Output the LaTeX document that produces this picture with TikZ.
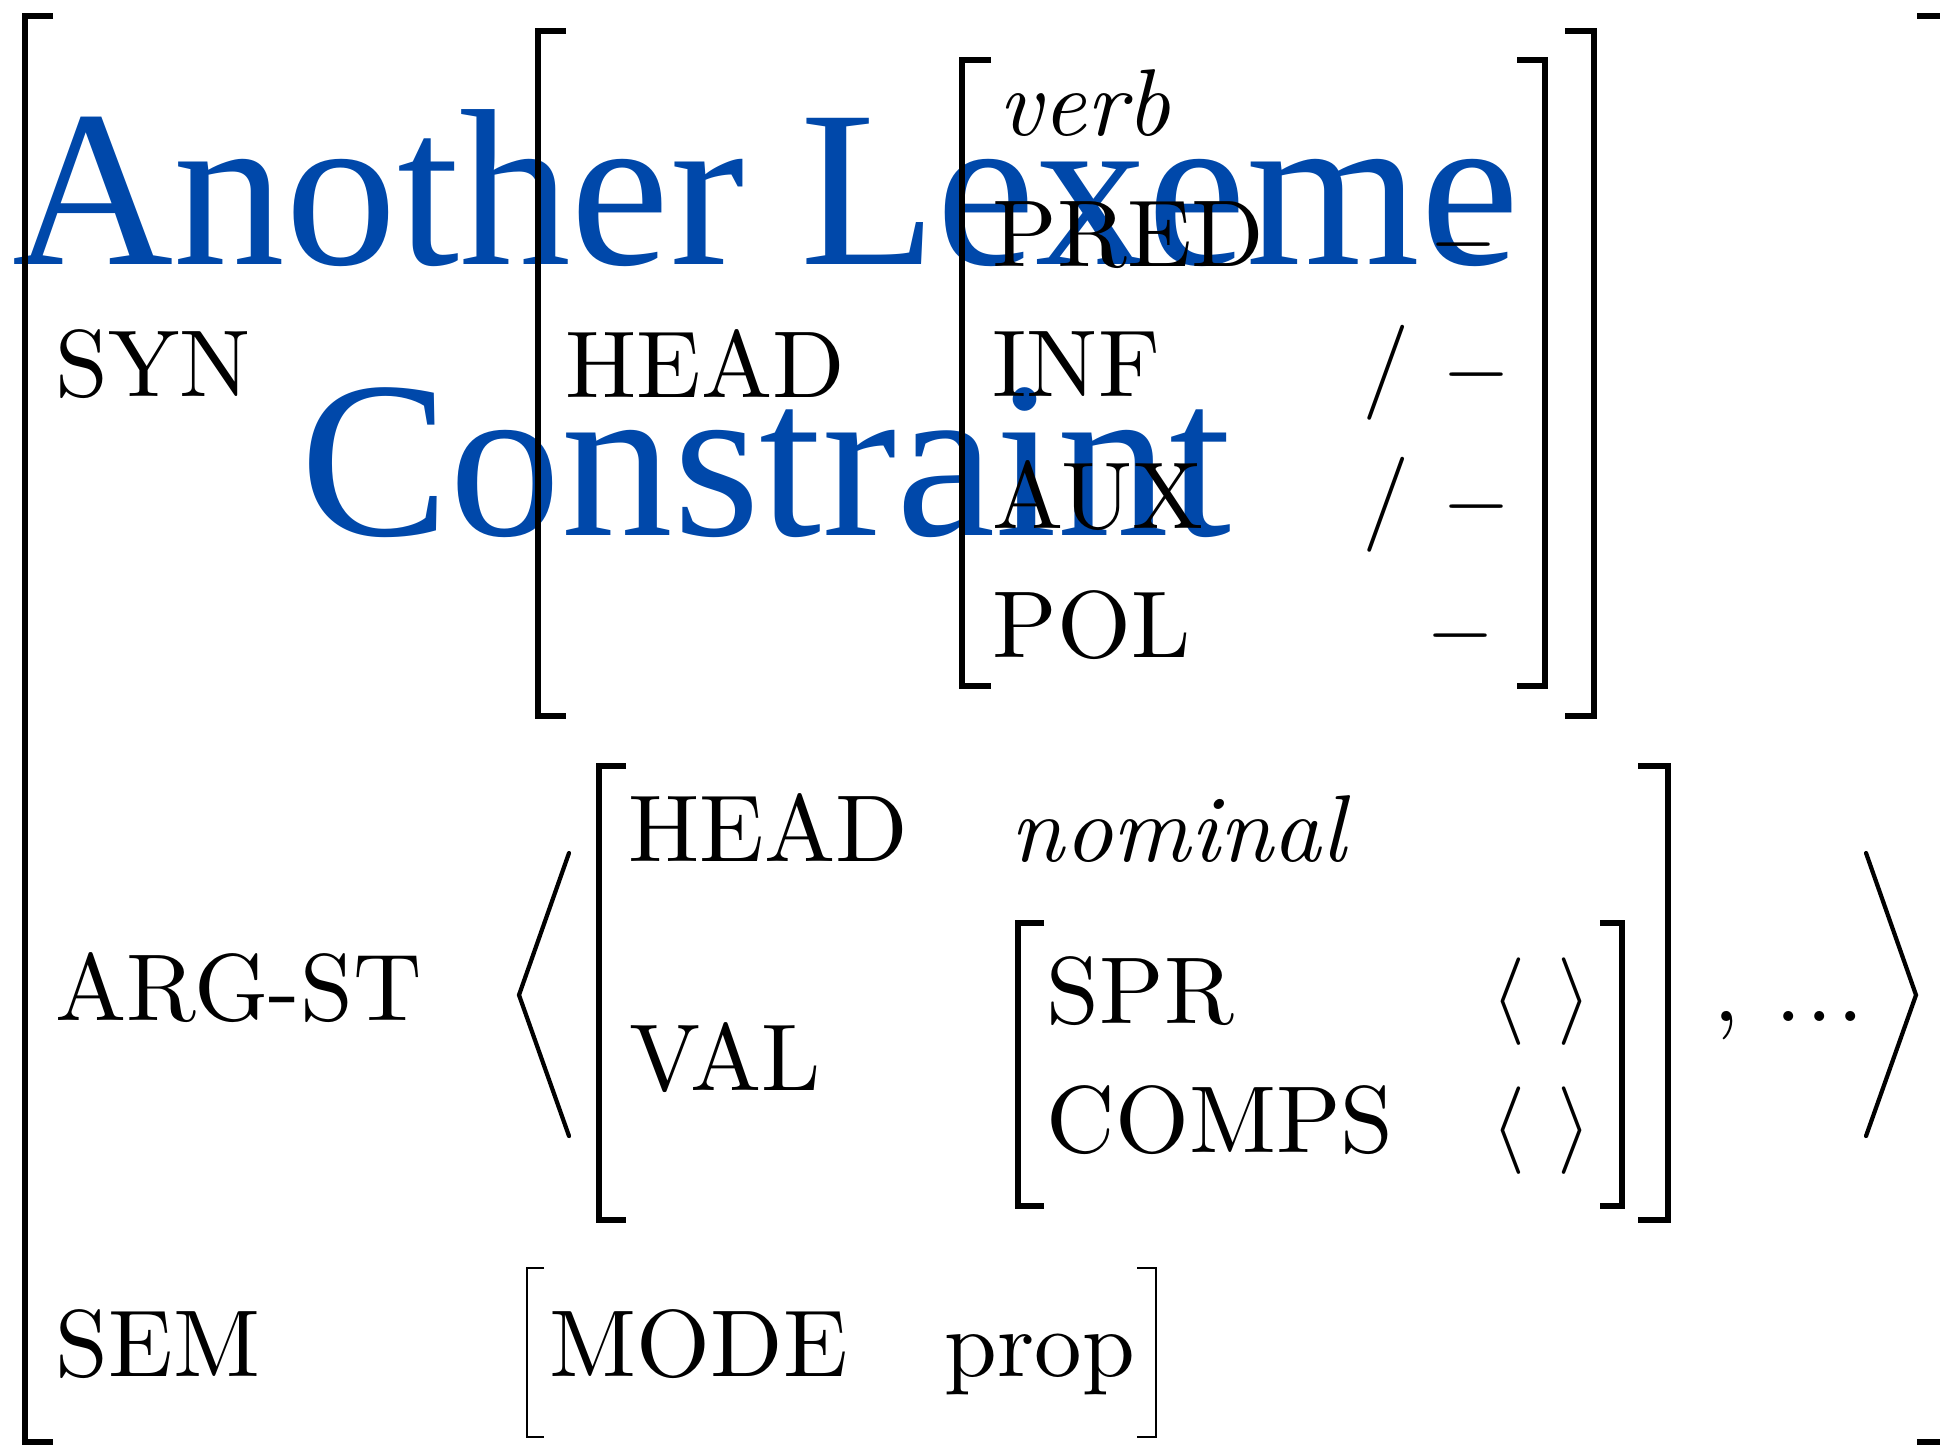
\documentclass[tikz,border=0pt]{standalone}
\usepackage{fontspec}
\usepackage{amsmath}
\setmainfont{lmroman10-regular.otf}[ItalicFont=lmroman10-italic.otf, BoldFont=lmroman10-bold.otf]
\newfontfamily\titlefont{Liberation Serif}
\definecolor{titleblue}{RGB}{0,72,170}
\tikzset{
  feat/.style={anchor=base west, inner sep=0pt, font=\fontsize{27}{32}\selectfont},
  brk/.style={line width=1.6pt},
  thinbrk/.style={line width=0.8pt},
  ang/.style={line width=1.2pt, line cap=round},
  ttl/.style={anchor=base, inner sep=0pt, text=titleblue,
    font=\titlefont\fontsize{63.5}{77}\selectfont},
}

\begin{document}
\begin{tikzpicture}[x=0.01cm, y=-0.01cm]
  \clip (0,0) rectangle (1940,1445); %画像の枠
  \node[ttl] (title1) at (766,264) {Another Lexeme}; %タイトル1行目
  \node[ttl] (title2) at (766,535) {Constraint}; %タイトル2行目
  % 外側の括弧
  \draw[brk] (53,16)--(25,16)--(25,1442)--(53,1442); %左
  \draw[brk] (1917,16)--(1946,16)--(1946,1442)--(1917,1442); %右
  % SYN
  \node[feat] (syn) at (55,396) {SYN};
  \draw[brk] (566,31)--(538,31)--(538,716)--(566,716); %HEADの左
  \draw[brk] (1565,31)--(1594,31)--(1594,716)--(1565,716); %HEADの右
  \node[feat] (head) at (565,397) {HEAD};
  \draw[brk] (991,60)--(962,60)--(962,686)--(991,686); %verbの左
  \draw[brk] (1517,60)--(1545,60)--(1545,686)--(1517,686); %verbの右
  \node[feat] (verb) at (998,135) {\itshape verb};
  \node[feat] (pred) at (992,266) {PRED};
  \node[feat] (inf) at (992,396) {INF};
  \node[feat] (aux) at (992,528) {AUX};
  \node[feat] (pol) at (992,657) {POL};
  \node[feat] (predv) at (1429,266) {$-$}; %PREDの値
  \node[feat] (infs) at (1362,396) {/}; %INFの既定値
  \node[feat] (infv) at (1442,396) {$-$};
  \node[feat] (auxs) at (1362,528) {/}; %AUXの既定値
  \node[feat] (auxv) at (1442,528) {$-$};
  \node[feat] (polv) at (1426,657) {$-$}; %POLの値
  % ARG-ST
  \node[feat] (argst) at (55,1020) {ARG-ST};
  \draw[ang] (569,853)--(519,995)--(569,1136); %左の山括弧
  \draw[ang] (1866,853)--(1916,995)--(1866,1136); %右の山括弧
  \draw[brk] (626,766)--(599,766)--(599,1220)--(626,1220); %引数の左
  \draw[brk] (1638,766)--(1668,766)--(1668,1220)--(1638,1220); %引数の右
  \node[feat] (ahead) at (628,861) {HEAD};
  \node[feat] (nominal) at (1010,861) {\itshape nominal};
  \node[feat] (val) at (629,1090) {VAL};
  \draw[brk] (1044,923)--(1018,923)--(1018,1206)--(1044,1206); %VALの左
  \draw[brk] (1600,923)--(1622,923)--(1622,1206)--(1600,1206); %VALの右
  \node[feat] (spr) at (1046,1023) {SPR};
  \node[feat] (comps) at (1046,1152) {COMPS};
  \node[feat] (sprv) at (1491,1023) {$\langle\ \rangle$}; %空リスト
  \node[feat] (compsv) at (1491,1152) {$\langle\ \rangle$}; %空リスト
  \node[feat] (rest) at (1713,1021) {,\hspace{10pt}.\kern1.3pt.\kern1.3pt.}; %残り
  % SEM
  \node[feat] (sem) at (55,1376) {SEM};
  \draw[thinbrk] (544,1268)--(527,1268)--(527,1437)--(544,1437); %MODEの左
  \draw[thinbrk] (1137,1268)--(1156,1268)--(1156,1437)--(1137,1437); %MODEの右
  \node[feat] (mode) at (549,1376) {MODE};
  \node[feat] (prop) at (944,1376) {prop};
\end{tikzpicture}
\end{document}
